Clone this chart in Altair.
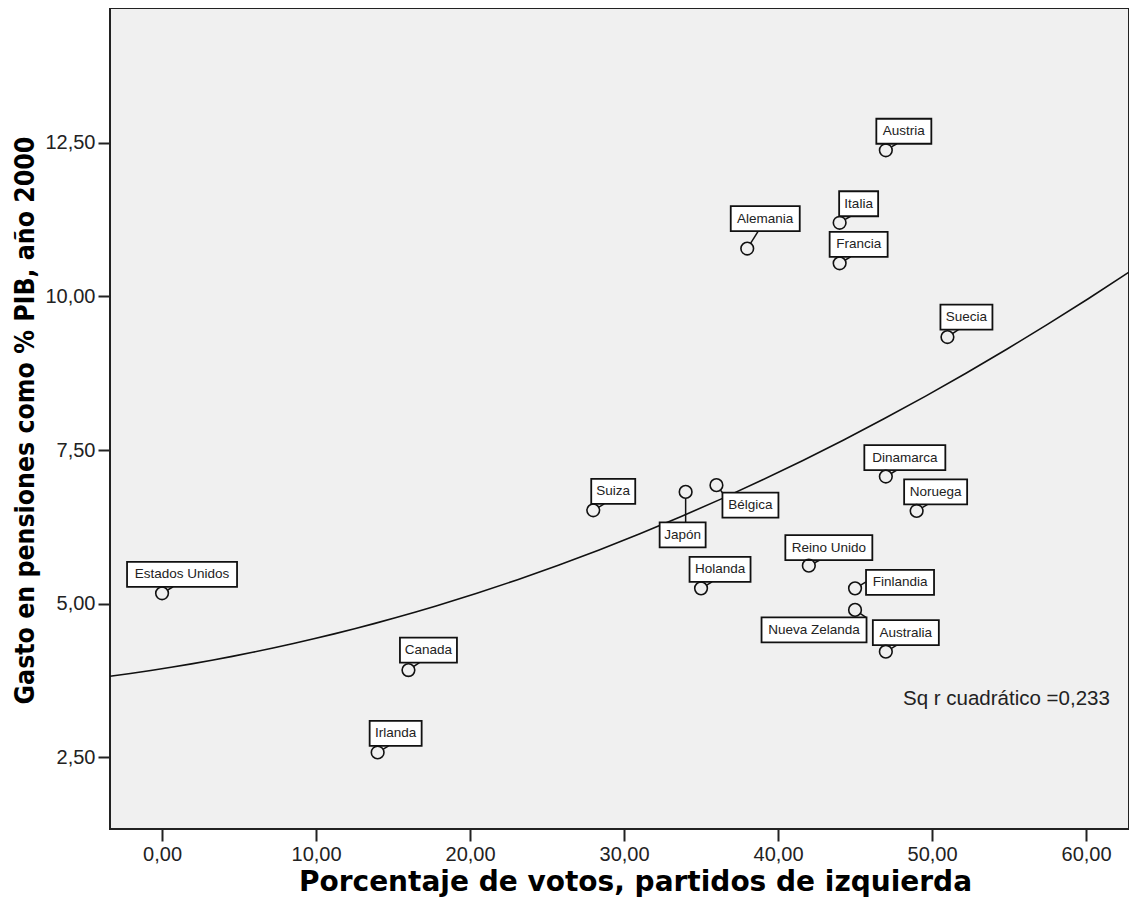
import altair as alt
import pandas as pd
import numpy as np

# ---------------- data ----------------
paises = ["Estados Unidos", "Irlanda", "Canada", "Suiza", "Japón", "Bélgica",
          "Holanda", "Reino Unido", "Finlandia", "Nueva Zelanda", "Australia",
          "Dinamarca", "Noruega", "Suecia", "Austria", "Italia", "Francia", "Alemania"]
votos_izq = [0.0, 14.0, 16.0, 28.0, 34.0, 36.0,
             35.0, 42.0, 45.0, 45.0, 47.0,
             47.0, 49.0, 51.0, 47.0, 44.0, 44.0, 38.0]
gasto_pensiones = [5.17, 2.58, 3.92, 6.52, 6.82, 6.93,
                   5.25, 5.62, 5.25, 4.90, 4.22,
                   7.07, 6.51, 9.34, 12.38, 11.20, 10.54, 10.78]
x_ticks = [0, 10, 20, 30, 40, 50, 60]
y_ticks = [2.5, 5.0, 7.5, 10.0, 12.5]
r2_text = "Sq r cuadrático =0,233"

# ---------------- label layout (pixels, relative to point) ----------------
label_dx = [20, 18, 20, 20, -3, 34, 19, 20, 45, -41, 20, 19, 19, 19, 18, 19, 19, 18]
label_dy = [-19, -19, -20, -19, 43, 20, -19, -18, -6, 20, -19, -19, -19, -20, -19, -19, -19, -30]
label_w = [110, 52, 57, 44, 46, 56, 61, 87, 68, 105, 66, 81, 63, 52, 55, 39, 58, 69]
BOX_H = 25
R = 6.5
SHIFT = 11

W, H = 1019, 821
X0, X1 = -3.38, 62.79
Y0, Y1 = 1.334, 14.695
kx = W / (X1 - X0)
ky = H / (Y1 - Y0)

def to_px(x, y):
    return (x - X0) * kx, (Y1 - y) * ky

def to_data(px, py):
    return X0 + px / kx, Y1 - py / ky

rows = []
lines = []
for name, xv, yv, dx, dy, w in zip(paises, votos_izq, gasto_pensiones, label_dx, label_dy, label_w):
    px, py = to_px(xv, yv)
    cx, cy = px + dx, py + dy
    hw, hh = w / 2, BOX_H / 2
    bx0, by0 = to_data(cx - hw, cy - hh)
    bx1, by1 = to_data(cx + hw, cy + hh)
    tx, ty = to_data(cx, cy)
    rows.append(dict(pais=name, votos=xv, gasto=yv, bx0=bx0, bx1=bx1, by0=by0, by1=by1, tx=tx, ty=ty))
    # nearest point of the box to the point
    left, right, top, bottom = cx - hw, cx + hw, cy - hh, cy + hh
    ex = min(max(px, left), right)
    ey = min(max(py, top), bottom)
    x_clamped = ex != px
    y_clamped = ey != py
    if y_clamped and not x_clamped and abs(dx) > 5:
        ex = min(ex + SHIFT, right)
    elif x_clamped and not y_clamped:
        ey = min(max(ey + (SHIFT if dy > 0 else -SHIFT) * 0.6, top), bottom)
    vx, vy = ex - px, ey - py
    d = np.hypot(vx, vy)
    if d > R + 0.5:
        sx, sy = px + vx / d * R, py + vy / d * R
        a = to_data(sx, sy)
        b = to_data(ex, ey)
        lines.append(dict(x1=a[0], y1=a[1], x2=b[0], y2=b[1]))

df = pd.DataFrame(rows)
df_lines = pd.DataFrame(lines)

label_expr = "replace(format(datum.value, '.2f'), '.', ',')"

xscale = alt.Scale(domain=[X0, X1], nice=False, zero=False)
yscale = alt.Scale(domain=[Y0, Y1], nice=False, zero=False)

base = alt.Chart(df)

curve = base.transform_regression(
    "votos", "gasto", method="poly", order=2, extent=[X0, X1]
).mark_line(color="#111", strokeWidth=1.6, clip=True).encode(
    x=alt.X("votos:Q", scale=xscale,
            axis=alt.Axis(values=x_ticks, labelExpr=label_expr,
                          title="Porcentaje de votos, partidos de izquierda",
                          titleX=525, titleY=61, titleBaseline="alphabetic",
                          titleFont="DejaVu Sans", titleFontSize=28, titleFontWeight="bold",
                          titleColor="#000")),
    y=alt.Y("gasto:Q", scale=yscale,
            axis=alt.Axis(values=y_ticks, labelExpr=label_expr,
                          title="Gasto en pensiones como % PIB, año 2000",
                          titleX=-77, titleY=412, titleBaseline="alphabetic",
                          titleAngle=-90,
                          titleFont="DejaVu Sans Condensed", titleFontSize=26.4, titleFontWeight="bold",
                          titleColor="#000")),
)

leaders = alt.Chart(df_lines).mark_rule(color="#111", strokeWidth=1.5).encode(
    x=alt.X("x1:Q", scale=xscale), y=alt.Y("y1:Q", scale=yscale),
    x2="x2:Q", y2="y2:Q",
)

boxes = base.mark_rect(fill="white", stroke="#111", strokeWidth=1.8).encode(
    x=alt.X("bx0:Q", scale=xscale), x2="bx1:Q",
    y=alt.Y("by0:Q", scale=yscale), y2="by1:Q",
)

texts = base.mark_text(font="Liberation Sans", fontSize=13.5, color="#222",
                       align="center", baseline="middle").encode(
    x=alt.X("tx:Q", scale=xscale), y=alt.Y("ty:Q", scale=yscale), text="pais:N",
)

points = base.mark_point(shape="circle", size=160, filled=False, color="#111",
                         strokeWidth=1.6, opacity=1).encode(
    x=alt.X("votos:Q", scale=xscale), y=alt.Y("gasto:Q", scale=yscale),
)

r2 = alt.Chart(pd.DataFrame({"t": [r2_text]})).mark_text(
    font="Liberation Sans", fontSize=20.5, color="#222", align="left", baseline="alphabetic"
).encode(x=alt.value(793), y=alt.value(697), text="t:N")

chart = alt.layer(curve, leaders, boxes, texts, points, r2).properties(
    width=W, height=H,
    autosize=alt.AutoSizeParams(type="none"),
    padding={"left": 102, "top": 0, "right": 0, "bottom": 75},
).configure_view(
    fill="#F0F0F0", stroke="#222", strokeWidth=2
).configure_axis(
    domain=False, grid=False,
    ticks=True, tickSize=12, tickWidth=2, tickColor="#222",
    labelFont="Liberation Sans", labelFontSize=20, labelColor="#222",
    labelPadding=3,
).configure_axisX(labelPadding=3)

chart.save("out.html", embed_options={"renderer": "svg", "actions": False})
